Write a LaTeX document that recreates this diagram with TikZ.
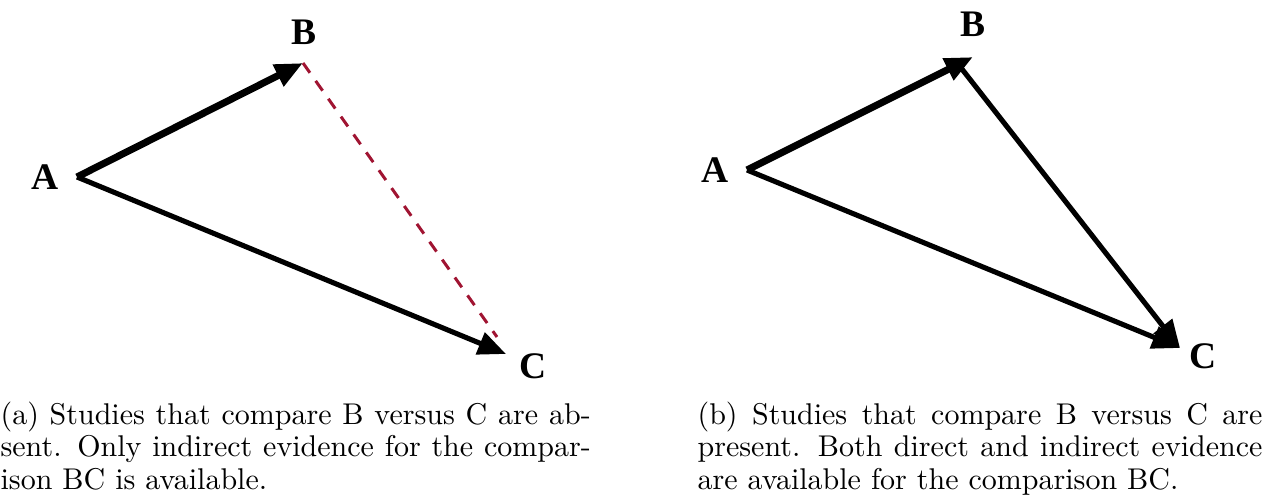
\documentclass[tikz,border=0pt]{standalone}
\usepackage{fontspec}
\newfontfamily\lblfont{Liberation Serif}
\usetikzlibrary{arrows.meta}
\hyphenation{compar-ison}
\definecolor{dashred}{RGB}{160,20,50}
\tikzset{
  lbl/.style={font=\lblfont\fontsize{12.5}{14}\selectfont\bfseries, inner sep=0pt},
  thickarr/.style={line width=2.35pt, -{Triangle[length=9.3pt,width=7.6pt]}},
  midarr/.style={line width=1.7pt, -{Triangle[length=9.3pt,width=7.6pt]}},
  dashline/.style={line width=1pt, dashred, dash pattern=on 4pt off 3.3pt},
  capt/.style={anchor=north west, inner sep=0pt, align=justify, font=\fontsize{10}{10.85}\selectfont}
}
\begin{document}
\begin{tikzpicture}[x=0.3333pt,y=-0.3333pt]
\useasboundingbox (0,0) rectangle (1262,503);
% left
\coordinate (A1) at (77,177);
\coordinate (B1) at (303,63);
\coordinate (C1) at (506,354);
\coordinate (D1) at (497,337);
\node[lbl] (la1) at (45,177) {A};
\node[lbl] (lb1) at (304,32) {B};
\node[lbl] (lc1) at (533,366) {C};
\draw[thickarr] (A1) -- (B1);
\draw[midarr] (A1) -- (C1);
\draw[dashline] (B1) -- (D1);
% right
\coordinate (A2) at (747,170);
\coordinate (B2) at (973,57);
\coordinate (C2) at (1180,348);
\coordinate (B2s) at (958,64);
\node[lbl] (la2) at (715,170) {A};
\node[lbl] (lb2) at (973,24) {B};
\node[lbl] (lc2) at (1203,356) {C};
\draw[thickarr] (A2) -- (B2);
\draw[midarr] (A2) -- (C2);
\draw[midarr] (B2s) -- (C2);
% captions
\node[capt, text width=196.7pt] (cap1) at (0,401) {(a) Studies that compare B versus C are absent. Only indirect evidence for the comparison BC is available.};
\node[capt, text width=188.3pt] (cap2) at (697,401) {(b) Studies that compare B versus C are present. Both direct and indirect evidence are available for the comparison BC.};
\end{tikzpicture}
\end{document}
